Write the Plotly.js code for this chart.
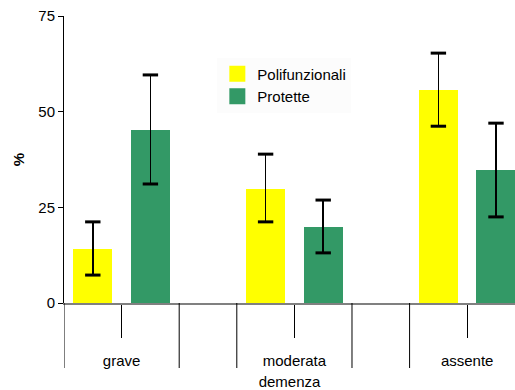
<!DOCTYPE html>
<html>
<head>
<meta charset="utf-8">
<script src="https://cdn.plot.ly/plotly-3.0.1.min.js"></script>
<style>html,body{margin:0;padding:0;background:#fff;}#chart{width:515px;height:390px;}</style>
</head>
<body>
<div id="chart"></div>
<script>
// ---- data ----
const categories = ["grave", "moderata", "assente"];
const seriesNames = ["Polifunzionali", "Protette"];
const poliValues = [14.1, 29.8, 55.7];
const poliLow    = [7.3, 21.2, 46.2];
const poliHigh   = [21.2, 38.9, 65.3];
const protValues = [45.2, 19.9, 34.8];
const protLow    = [31.1, 13.1, 22.5];
const protHigh   = [59.6, 26.9, 47.0];
const yTicks = [0, 25, 50, 75];
const xTitle = "demenza";
const yTitle = "%";

// ---- layout helpers (each category spans 3 slots: bar, bar, gap) ----
const poliX = categories.map((c, i) => i * 3 + 0.5);
const protX = categories.map((c, i) => i * 3 + 1.5);
const catX  = categories.map((c, i) => i * 3 + 1);
const font = "Liberation Sans, Arial, sans-serif";
const yellow = "#FFFF00", green = "#339966";

function barTrace(name, x, vals, lo, hi, color) {
  return {
    type: "bar", name: name, x: x, y: vals, width: 0.68,
    marker: {color: color, line: {width: 0}},
    error_y: {type: "data", symmetric: false,
      array: vals.map((v, i) => hi[i] - v),
      arrayminus: vals.map((v, i) => v - lo[i]),
      color: "#000", thickness: 1.5, width: 0},
    showlegend: false, hoverinfo: "skip"
  };
}
function capTrace(x, lo, hi) {
  return {
    type: "scatter", mode: "markers", x: x.concat(x), y: lo.concat(hi),
    marker: {symbol: "line-ew", size: 11, color: "#000", line: {width: 3, color: "#000"}},
    showlegend: false, hoverinfo: "skip", cliponaxis: false
  };
}
function legendTrace(name, color) {
  return {
    type: "scatter", mode: "markers", name: name, x: [null], y: [null],
    marker: {symbol: "square", size: 20, color: color}, showlegend: true
  };
}

const traces = [
  barTrace(seriesNames[0], poliX, poliValues, poliLow, poliHigh, yellow),
  barTrace(seriesNames[1], protX, protValues, protLow, protHigh, green),
  capTrace(poliX, poliLow, poliHigh),
  capTrace(protX, protLow, protHigh),
  legendTrace(seriesNames[0], yellow),
  legendTrace(seriesNames[1], green)
];

const dividerSlots = [0, 2, 3, 5, 6];
const shapes = dividerSlots.map(s => ({
  type: "line", xref: "x", yref: "paper", x0: s, x1: s, y0: 0, y1: -0.2265,
  line: {color: "#000", width: 1}
}));

const layout = {
  width: 515, height: 390,
  margin: {l: 64, r: 0, t: 16, b: 87},
  paper_bgcolor: "#fff", plot_bgcolor: "#fff",
  font: {family: font, size: 15, color: "#000"},
  showlegend: true,
  legend: {x: 0.34, y: 0.855, xanchor: "left", yanchor: "top",
    bgcolor: "#fcfcfc", font: {size: 15}, itemsizing: "trace",
    tracegroupgap: 0, borderwidth: 0},
  xaxis: {
    range: [0, 7.83], showgrid: false, zeroline: false,
    showline: true, linecolor: "#808080", linewidth: 2,
    tickmode: "array", tickvals: catX, ticktext: categories,
    ticks: "outside", ticklen: 33, tickcolor: "#000", tickwidth: 1,
    ticklabelstandoff: 10,
    tickfont: {size: 15, color: "#000"},
    title: {text: xTitle, font: {size: 15, color: "#000"}, standoff: 9},
    fixedrange: true
  },
  yaxis: {
    range: [0, 75], showgrid: false, zeroline: false,
    showline: true, linecolor: "#000", linewidth: 1,
    tickmode: "array", tickvals: yTicks,
    ticks: "outside", ticklen: 5, tickcolor: "#000",
    tickfont: {size: 15, color: "#000"},
    title: {text: "<b>" + yTitle + "</b>", font: {size: 15, color: "#000"}, standoff: 10},
    fixedrange: true
  },
  shapes: shapes,
  bargap: 0
};

Plotly.newPlot("chart", traces, layout, {displayModeBar: false, staticPlot: true});
</script>
</body>
</html>
